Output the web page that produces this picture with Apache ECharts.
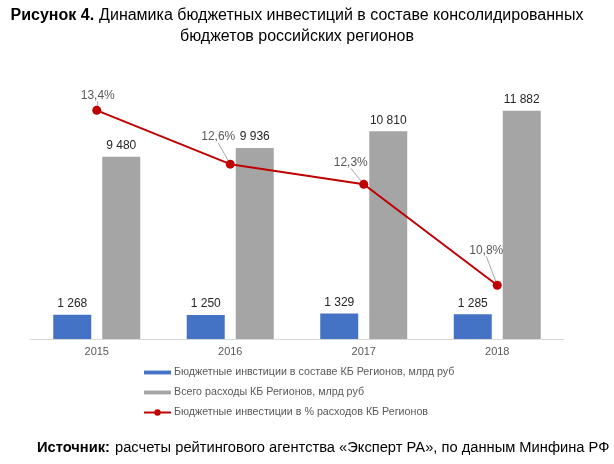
<!DOCTYPE html>
<html>
<head>
<meta charset="utf-8">
<script src="https://cdn.jsdelivr.net/npm/echarts@6/dist/echarts.min.js"></script>
<style>html,body{margin:0;padding:0;background:#fff;}#c{width:614px;height:464px;}</style>
</head>
<body>
<div id="c"></div>
<script>
var years = ['2015', '2016', '2017', '2018'];
var investments = [1268, 1250, 1329, 1285];
var totalSpending = [9480, 9936, 10810, 11882];
var sharePercent = [13.4, 12.6, 12.3, 10.8];
var seriesNames = [
  'Бюджетные инвстиции в составе КБ Регионов, млрд руб',
  'Всего расходы КБ Регионов, млрд руб',
  'Бюджетные инвестиции в % расходов КБ Регионов'
];
// label offsets for percentage labels (dx, dy)
var pctLabelOffsets = [[1, -15], [-12, -27], [-13, -22], [-11, -35]];

function fmtNum(v) {
  return String(v).replace(/\B(?=(\d{3})+(?!\d))/g, ' ');
}
var FONT = '"Liberation Sans", Arial, sans-serif';

var chart = echarts.init(document.getElementById('c'), null, {renderer: 'canvas'});
chart.setOption({
  animation: false,
  textStyle: {fontFamily: FONT},
  title: [{
    text: '{b|Рисунок 4.} {n|Динамика бюджетных инвестиций в составе консолидированных}\n{n|бюджетов российских регионов}',
    left: 292,
    textAlign: 'center',
    top: 0,
    textStyle: {
      fontFamily: FONT,
      fontWeight: 'normal',
      rich: {
        b: {fontFamily: FONT, fontSize: 16, fontWeight: 'bold', color: '#000', lineHeight: 21},
        n: {fontFamily: FONT, fontSize: 16, fontWeight: 'normal', color: '#000', lineHeight: 21}
      }
    }
  }, {
    text: '{b|Источник:} {n|расчеты рейтингового агентства «Эксперт РА», по данным Минфина РФ}',
    left: 32,
    top: 434,
    textStyle: {
      fontFamily: FONT,
      fontWeight: 'normal',
      rich: {
        b: {fontFamily: FONT, fontSize: 14.7, fontWeight: 'bold', color: '#000'},
        n: {fontFamily: FONT, fontSize: 14.7, fontWeight: 'normal', color: '#000'}
      }
    }
  }],
  legend: {
    orient: 'vertical',
    left: 143,
    top: 367,
    padding: 0,
    itemWidth: 27,
    itemHeight: 8,
    itemGap: 9,
    textStyle: {fontFamily: FONT, fontSize: 10.7, color: '#595959', padding: [0, 0, 0, -2]},
    data: [
      {name: seriesNames[0], icon: 'path://M0,0 H28 V4 H0 Z'},
      {name: seriesNames[1], icon: 'path://M0,0 H28 V4 H0 Z'},
      {name: seriesNames[2]}
    ]
  },
  grid: {left: 30, right: 50, top: 70, bottom: 125},
  xAxis: {
    type: 'category',
    data: years,
    axisLine: {lineStyle: {color: '#d9d9d9', width: 1}},
    axisTick: {show: false},
    axisLabel: {color: '#595959', fontSize: 11, margin: 7, fontFamily: FONT}
  },
  yAxis: [{
    type: 'value', min: 0, max: 14000, show: false, splitLine: {show: false}
  }, {
    type: 'value', min: 10, max: 14, show: false, splitLine: {show: false}
  }],
  series: [{
    name: seriesNames[0],
    type: 'bar',
    data: investments,
    barWidth: 38,
    barGap: '29%',
    itemStyle: {color: '#4472C4'},
    label: {show: true, position: 'top', distance: 5, color: '#262626', fontSize: 12, fontFamily: FONT,
      formatter: function (p) { return fmtNum(p.value); }}
  }, {
    name: seriesNames[1],
    type: 'bar',
    data: totalSpending,
    barWidth: 38,
    itemStyle: {color: '#A5A5A5'},
    label: {show: true, position: 'top', distance: 5, color: '#262626', fontSize: 12, fontFamily: FONT,
      formatter: function (p) { return fmtNum(p.value); }}
  }, {
    name: seriesNames[2],
    type: 'line',
    yAxisIndex: 1,
    data: sharePercent,
    z: 5,
    symbol: 'circle',
    symbolSize: 9,
    lineStyle: {color: '#C00000', width: 2},
    itemStyle: {color: '#C00000'},
    label: {show: true, position: 'inside', color: '#595959', fontSize: 12, fontFamily: FONT,
      formatter: function (p) { return String(p.value).replace('.', ',') + '%'; }},
    labelLine: {show: true, lineStyle: {color: '#a6a6a6', width: 1}},
    labelLayout: function (params) {
      var o = pctLabelOffsets[params.dataIndex];
      return {dx: o[0], dy: o[1]};
    }
  }]
});
</script>
</body>
</html>
